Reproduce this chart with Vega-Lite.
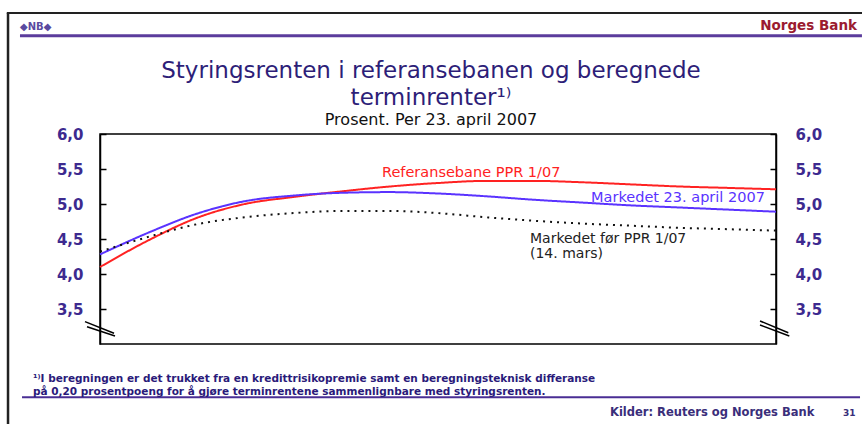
{
  "$schema": "https://vega.github.io/schema/vega-lite/v6.json",
  "autosize": "none",
  "width": 676,
  "height": 210,
  "padding": {"left": 100, "top": 134, "right": 86, "bottom": 80},
  "background": "white",
  "config": {
    "font": "DejaVu Sans",
    "view": {"stroke": "black", "strokeWidth": 1.5}
  },
  "datasets": {
    "rates": [
      {"q": 0, "serie": "Referansebane PPR 1/07", "v": 4.10},
      {"q": 1, "serie": "Referansebane PPR 1/07", "v": 4.48},
      {"q": 2, "serie": "Referansebane PPR 1/07", "v": 4.80},
      {"q": 3, "serie": "Referansebane PPR 1/07", "v": 5.00},
      {"q": 4, "serie": "Referansebane PPR 1/07", "v": 5.10},
      {"q": 5, "serie": "Referansebane PPR 1/07", "v": 5.18},
      {"q": 6, "serie": "Referansebane PPR 1/07", "v": 5.25},
      {"q": 7, "serie": "Referansebane PPR 1/07", "v": 5.30},
      {"q": 8, "serie": "Referansebane PPR 1/07", "v": 5.33},
      {"q": 9, "serie": "Referansebane PPR 1/07", "v": 5.33},
      {"q": 10, "serie": "Referansebane PPR 1/07", "v": 5.31},
      {"q": 11, "serie": "Referansebane PPR 1/07", "v": 5.28},
      {"q": 12, "serie": "Referansebane PPR 1/07", "v": 5.25},
      {"q": 13, "serie": "Referansebane PPR 1/07", "v": 5.23},
      {"q": 14, "serie": "Referansebane PPR 1/07", "v": 5.21},
      {"q": 0, "serie": "Markedet 23. april 2007", "v": 4.28},
      {"q": 1, "serie": "Markedet 23. april 2007", "v": 4.59},
      {"q": 2, "serie": "Markedet 23. april 2007", "v": 4.86},
      {"q": 3, "serie": "Markedet 23. april 2007", "v": 5.04},
      {"q": 4, "serie": "Markedet 23. april 2007", "v": 5.12},
      {"q": 5, "serie": "Markedet 23. april 2007", "v": 5.16},
      {"q": 6, "serie": "Markedet 23. april 2007", "v": 5.17},
      {"q": 7, "serie": "Markedet 23. april 2007", "v": 5.15},
      {"q": 8, "serie": "Markedet 23. april 2007", "v": 5.11},
      {"q": 9, "serie": "Markedet 23. april 2007", "v": 5.06},
      {"q": 10, "serie": "Markedet 23. april 2007", "v": 5.02},
      {"q": 11, "serie": "Markedet 23. april 2007", "v": 4.98},
      {"q": 12, "serie": "Markedet 23. april 2007", "v": 4.95},
      {"q": 13, "serie": "Markedet 23. april 2007", "v": 4.92},
      {"q": 14, "serie": "Markedet 23. april 2007", "v": 4.89},
      {"q": 0, "serie": "Markedet før PPR 1/07", "v": 4.32},
      {"q": 1, "serie": "Markedet før PPR 1/07", "v": 4.53},
      {"q": 2, "serie": "Markedet før PPR 1/07", "v": 4.71},
      {"q": 3, "serie": "Markedet før PPR 1/07", "v": 4.81},
      {"q": 4, "serie": "Markedet før PPR 1/07", "v": 4.87},
      {"q": 5, "serie": "Markedet før PPR 1/07", "v": 4.90},
      {"q": 6, "serie": "Markedet før PPR 1/07", "v": 4.90},
      {"q": 7, "serie": "Markedet før PPR 1/07", "v": 4.87},
      {"q": 8, "serie": "Markedet før PPR 1/07", "v": 4.81},
      {"q": 9, "serie": "Markedet før PPR 1/07", "v": 4.76},
      {"q": 10, "serie": "Markedet før PPR 1/07", "v": 4.72},
      {"q": 11, "serie": "Markedet før PPR 1/07", "v": 4.69},
      {"q": 12, "serie": "Markedet før PPR 1/07", "v": 4.66},
      {"q": 13, "serie": "Markedet før PPR 1/07", "v": 4.64},
      {"q": 14, "serie": "Markedet før PPR 1/07", "v": 4.62}
    ],
    "one": [{}]
  },
  "data": {"name": "one"},
  "resolve": {"axis": {"y": "independent"}},
  "layer": [
    {
      "data": {"name": "rates"},
      "mark": {"type": "line", "interpolate": "monotone", "strokeWidth": 2},
      "encoding": {
        "x": {
          "field": "q", "type": "quantitative",
          "scale": {"domain": [0, 14], "nice": false, "zero": false},
          "axis": {
            "title": null, "values": [0, 2, 4, 6, 8, 10, 12, 14],
            "labelExpr": "(datum.value % 4 == 0 ? '2' : '4') + '.kv.' + (floor(datum.value / 4) + 7 < 10 ? '0' : '') + (floor(datum.value / 4) + 7)",
            "grid": false, "domainColor": "black", "domainWidth": 1.5,
            "tickColor": "black", "tickWidth": 1.5, "tickSize": -6,
            "labelPadding": 21, "labelFont": "DejaVu Sans", "labelFontSize": 15, "labelFontWeight": "bold",
            "labelColor": "#3d2a8f", "labelFlush": false
          }
        },
        "y": {
          "field": "v", "type": "quantitative",
          "scale": {"domain": [3, 6], "nice": false, "zero": false},
          "axis": {
            "title": null, "orient": "left", "values": [3.5, 4, 4.5, 5, 5.5, 6],
            "labelExpr": "replace(format(datum.value, '.1f'), '.', ',')",
            "grid": false, "domainColor": "black", "domainWidth": 1.5,
            "tickColor": "black", "tickWidth": 1.5, "tickSize": -6,
            "labelPadding": 23, "labelFont": "DejaVu Sans", "labelFontSize": 15, "labelFontWeight": "bold",
            "labelColor": "#3d2a8f", "labelFlush": false
          }
        },
        "color": {
          "field": "serie", "type": "nominal", "legend": null,
          "scale": {"domain": ["Referansebane PPR 1/07", "Markedet 23. april 2007", "Markedet før PPR 1/07"], "range": ["#ff2222", "#5a33ff", "#111111"]}
        },
        "strokeDash": {
          "field": "serie", "type": "nominal", "legend": null,
          "scale": {"domain": ["Referansebane PPR 1/07", "Markedet 23. april 2007", "Markedet før PPR 1/07"], "range": [[1, 0], [1, 0], [2, 5]]}
        }
      }
    },
    {
      "data": {"name": "rates"},
      "mark": {"type": "line", "opacity": 0},
      "encoding": {
        "x": {"field": "q", "type": "quantitative", "axis": null},
        "y": {
          "field": "v", "type": "quantitative",
          "axis": {
            "title": null, "orient": "right", "values": [3.5, 4, 4.5, 5, 5.5, 6],
            "labelExpr": "replace(format(datum.value, '.1f'), '.', ',')",
            "grid": false, "domainColor": "black", "domainWidth": 1.5,
            "tickColor": "black", "tickWidth": 1.5, "tickSize": -6,
            "labelPadding": 25, "labelFont": "DejaVu Sans", "labelFontSize": 15, "labelFontWeight": "bold",
            "labelColor": "#3d2a8f", "labelFlush": false
          }
        },
        "detail": {"field": "serie"}
      }
    },
    {
      "mark": {"type": "text", "align": "center", "baseline": "alphabetic", "fontSize": 23, "color": "#2d1e78"},
      "encoding": {"x": {"datum": 6.855, "axis": null}, "y": {"datum": 6.8, "axis": null}, "text": {"value": "Styringsrenten i referansebanen og beregnede"}}
    },
    {
      "mark": {"type": "text", "align": "center", "baseline": "alphabetic", "fontSize": 23, "color": "#2d1e78"},
      "encoding": {"x": {"datum": 6.855, "axis": null}, "y": {"datum": 6.414, "axis": null}, "text": {"value": "terminrenter¹⁾"}}
    },
    {
      "mark": {"type": "text", "align": "center", "baseline": "alphabetic", "fontSize": 16, "color": "#111111"},
      "encoding": {"x": {"datum": 6.855, "axis": null}, "y": {"datum": 6.129, "axis": null}, "text": {"value": "Prosent. Per 23. april 2007"}}
    },
    {
      "mark": {"type": "text", "align": "left", "baseline": "middle", "fontSize": 14.5, "color": "#ff2222"},
      "encoding": {"x": {"datum": 5.84, "axis": null}, "y": {"datum": 5.443, "axis": null}, "text": {"value": "Referansebane PPR 1/07"}}
    },
    {
      "mark": {"type": "text", "align": "right", "baseline": "middle", "fontSize": 14.5, "color": "#5a33ff"},
      "encoding": {"x": {"datum": 13.77, "axis": null}, "y": {"datum": 5.086, "axis": null}, "text": {"value": "Markedet 23. april 2007"}}
    },
    {
      "mark": {"type": "text", "align": "left", "baseline": "middle", "fontSize": 14, "color": "#222222"},
      "encoding": {"x": {"datum": 8.905, "axis": null}, "y": {"datum": 4.5, "axis": null}, "text": {"value": "Markedet før PPR 1/07"}}
    },
    {
      "mark": {"type": "text", "align": "left", "baseline": "middle", "fontSize": 14, "color": "#222222"},
      "encoding": {"x": {"datum": 8.905, "axis": null}, "y": {"datum": 4.29, "axis": null}, "text": {"value": "(14. mars)"}}
    },
    {
      "mark": {"type": "rule", "color": "black", "strokeWidth": 1.5},
      "encoding": {"x": {"datum": -0.311, "axis": null}, "x2": {"datum": 0.29}, "y": {"datum": 3.319, "axis": null}, "y2": {"datum": 3.153}}
    },
    {
      "mark": {"type": "rule", "color": "black", "strokeWidth": 1.5},
      "encoding": {"x": {"datum": -0.269, "axis": null}, "x2": {"datum": 0.311}, "y": {"datum": 3.247, "axis": null}, "y2": {"datum": 3.114}}
    },
    {
      "mark": {"type": "rule", "color": "black", "strokeWidth": 1.5},
      "encoding": {"x": {"datum": 13.669, "axis": null}, "x2": {"datum": 14.255}, "y": {"datum": 3.329, "axis": null}, "y2": {"datum": 3.161}}
    },
    {
      "mark": {"type": "rule", "color": "black", "strokeWidth": 1.5},
      "encoding": {"x": {"datum": 13.669, "axis": null}, "x2": {"datum": 14.276}, "y": {"datum": 3.271, "axis": null}, "y2": {"datum": 3.114}}
    },
    {
      "mark": {"type": "rule", "color": "#222222", "strokeWidth": 2.5},
      "encoding": {"x": {"datum": -1.905, "axis": null}, "y": {"datum": 7.729, "axis": null}, "y2": {"datum": 1.7}}
    },
    {
      "mark": {"type": "rule", "color": "#222222", "strokeWidth": 2},
      "encoding": {"x": {"datum": -1.93, "axis": null}, "x2": {"datum": 16.0}, "y": {"datum": 7.729, "axis": null}}
    },
    {
      "mark": {"type": "rule", "color": "#5b3c9c", "strokeWidth": 3},
      "encoding": {"x": {"datum": -1.657, "axis": null}, "x2": {"datum": 15.78}, "y": {"datum": 7.404, "axis": null}}
    },
    {
      "mark": {"type": "rule", "color": "#4a2e94", "strokeWidth": 2},
      "encoding": {"x": {"datum": -1.615, "axis": null}, "x2": {"datum": 15.74}, "y": {"datum": 2.239, "axis": null}}
    },
    {
      "mark": {"type": "text", "align": "left", "baseline": "middle", "fontSize": 10, "fontWeight": "bold", "color": "#5a4aa0"},
      "encoding": {"x": {"datum": -1.657, "axis": null}, "y": {"datum": 7.533, "axis": null}, "text": {"value": "◆NB◆"}}
    },
    {
      "mark": {"type": "text", "align": "right", "baseline": "alphabetic", "fontSize": 13.5, "fontWeight": "bold", "color": "#9b1b30"},
      "encoding": {"x": {"datum": 15.677, "axis": null}, "y": {"datum": 7.486, "axis": null}, "text": {"value": "Norges Bank"}}
    },
    {
      "mark": {"type": "text", "align": "left", "baseline": "middle", "fontSize": 10.5, "fontWeight": "bold", "color": "#2a1a7a"},
      "encoding": {"x": {"datum": -1.388, "axis": null}, "y": {"datum": 2.493, "axis": null}, "text": {"value": "¹⁾I beregningen er det trukket fra en kredittrisikopremie samt en beregningsteknisk differanse"}}
    },
    {
      "mark": {"type": "text", "align": "left", "baseline": "middle", "fontSize": 10.5, "fontWeight": "bold", "color": "#2a1a7a"},
      "encoding": {"x": {"datum": -1.388, "axis": null}, "y": {"datum": 2.321, "axis": null}, "text": {"value": "på 0,20 prosentpoeng for å gjøre terminrentene sammenlignbare med styringsrenten."}}
    },
    {
      "mark": {"type": "text", "align": "left", "baseline": "middle", "fontSize": 11.5, "fontWeight": "bold", "color": "#3a2e7a"},
      "encoding": {"x": {"datum": 10.562, "axis": null}, "y": {"datum": 2.01, "axis": null}, "text": {"value": "Kilder: Reuters og Norges Bank"}}
    },
    {
      "mark": {"type": "text", "align": "left", "baseline": "middle", "fontSize": 9, "fontWeight": "bold", "color": "#3a2e7a"},
      "encoding": {"x": {"datum": 15.388, "axis": null}, "y": {"datum": 2.01, "axis": null}, "text": {"value": "31"}}
    }
  ]
}
